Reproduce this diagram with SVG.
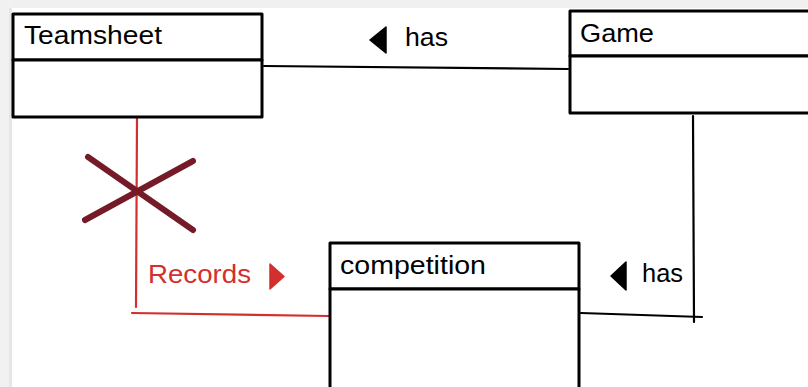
<svg xmlns="http://www.w3.org/2000/svg" width="808" height="387" viewBox="0 0 808 387">
<style>
.box{fill:#fff;stroke:#000;stroke-width:3;stroke-linejoin:round}
.lbl{font-family:"Liberation Sans",Arial,sans-serif;font-size:25px;fill:#000}
.conn{fill:none;stroke:#000;stroke-width:2.2;stroke-linecap:round}
.red{fill:none;stroke:#d32f2f;stroke-width:2.2;stroke-linecap:round}
.x{fill:none;stroke:#751a28;stroke-width:6;stroke-linecap:round}
</style>
<rect x="0" y="0" width="808" height="387" fill="#ffffff"/>
<rect x="0" y="0" width="808" height="8" fill="#f0f0f0"/>
<rect x="0" y="0" width="12" height="387" fill="#f1f1f1"/>
<rect x="9" y="8" width="3" height="379" fill="#e6e6e6"/>

<g id="connectors">
  <path class="conn" d="M264,66 L568,69"/>
  <path class="conn" d="M693,116 L694,322"/>
  <path class="conn" d="M581,313 L702,317"/>
  <path class="red" d="M137,118 L136,307"/>
  <path class="red" d="M132,313 L329,316"/>
  <path class="x" d="M88,157 L193,230"/>
  <path class="x" d="M193,161 L85,220"/>
  <g id="label-has-top">
    <polygon points="386,27 386,53 370,40" fill="#000" stroke="#000" stroke-width="1.5" stroke-linejoin="round"/>
    <text class="lbl" x="405" y="46" textLength="43" lengthAdjust="spacingAndGlyphs">has</text>
  </g>
  <g id="label-has-right">
    <polygon points="626,262 626,290 611,276" fill="#000" stroke="#000" stroke-width="1.5" stroke-linejoin="round"/>
    <text class="lbl" x="642" y="282" textLength="41" lengthAdjust="spacingAndGlyphs">has</text>
  </g>
  <g id="label-records">
    <text class="lbl" x="148" y="283" fill="#d32f2f" style="fill:#d32f2f" textLength="103" lengthAdjust="spacingAndGlyphs">Records</text>
    <polygon points="270,264 270,289 284,276.5" fill="#d32f2f" stroke="#d32f2f" stroke-width="1.5" stroke-linejoin="round"/>
  </g>
</g>

<g id="node-teamsheet">
  <rect class="box" x="13" y="14" width="249" height="46"/>
  <rect class="box" x="13" y="60" width="249" height="57"/>
  <text class="lbl" x="24" y="44" textLength="138" lengthAdjust="spacingAndGlyphs">Teamsheet</text>
</g>

<g id="node-game">
  <rect class="box" x="570" y="11" width="260" height="45"/>
  <rect class="box" x="570" y="56" width="260" height="57"/>
  <text class="lbl" x="580" y="42" textLength="74" lengthAdjust="spacingAndGlyphs">Game</text>
</g>

<g id="node-competition">
  <rect class="box" x="330" y="243" width="249" height="46"/>
  <rect class="box" x="330" y="289" width="249" height="120"/>
  <text class="lbl" x="340" y="274" textLength="146" lengthAdjust="spacingAndGlyphs">competition</text>
</g>
</svg>
